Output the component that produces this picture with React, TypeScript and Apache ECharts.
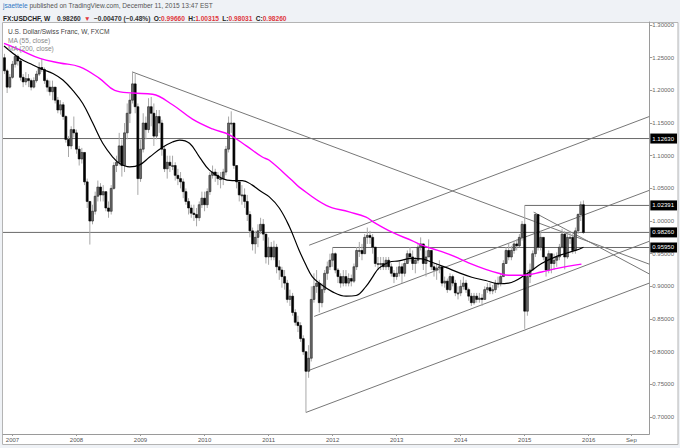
import React, { useEffect, useRef } from "react";
import * as echarts from "echarts";

// Half-month bars from the second half of Nov 2006 to the first half of Dec 2015
const FIRST_YEAR = 2006;
const FIRST_HALF = 21; // index of half-month within the year (Nov, 2nd half)
const firstOpen = 1.25;

const closes = [
  1.230, 1.205, 1.220,
  1.240, 1.252, 1.245, 1.220, 1.213, 1.218, 1.215, 1.205, 1.215, 1.225, 1.235, 1.232, 1.215, 1.205, 1.198, 1.205, 1.185, 1.170, 1.178, 1.160, 1.125, 1.115, 1.140, 1.135,
  1.110, 1.095, 1.105, 1.060, 1.030, 1.000, 1.015, 1.038, 1.052, 1.040, 1.045, 1.020, 1.015, 1.050, 1.085, 1.090, 1.115, 1.085, 1.135, 1.165, 1.185, 1.210, 1.175, 1.065,
  1.110, 1.150, 1.140, 1.175, 1.165, 1.130, 1.160, 1.150, 1.110, 1.080, 1.090, 1.085, 1.085, 1.070, 1.065, 1.060, 1.045, 1.030, 1.020, 1.012, 1.010, 1.005, 1.025, 1.035,
  1.025, 1.045, 1.070, 1.075, 1.070, 1.065, 1.065, 1.075, 1.110, 1.150, 1.150, 1.085, 1.060, 1.040, 1.040, 1.030, 1.010, 0.985, 0.965, 0.975, 0.985, 0.995, 0.980, 0.945,
  0.960, 0.945, 0.960, 0.930, 0.925, 0.915, 0.905, 0.880, 0.885, 0.860, 0.845, 0.840, 0.820, 0.800, 0.770, 0.790, 0.880, 0.900, 0.905, 0.875, 0.895, 0.920, 0.930, 0.940,
  0.950, 0.925, 0.915, 0.905, 0.915, 0.905, 0.912, 0.908, 0.930, 0.955, 0.955, 0.950, 0.975, 0.978, 0.975, 0.960, 0.935, 0.935, 0.935, 0.930, 0.940, 0.930, 0.920, 0.915,
  0.920, 0.930, 0.920, 0.935, 0.950, 0.945, 0.935, 0.940, 0.960, 0.965, 0.935, 0.945, 0.955, 0.930, 0.925, 0.928, 0.930, 0.905, 0.908, 0.895, 0.915, 0.905, 0.890, 0.890,
  0.900, 0.905, 0.895, 0.885, 0.875, 0.885, 0.880, 0.882, 0.880, 0.895, 0.898, 0.893, 0.895, 0.905, 0.905, 0.915, 0.935, 0.955, 0.945, 0.955, 0.965, 0.962, 0.975, 0.995,
  0.862, 0.915, 0.925, 0.950, 1.010, 0.960, 0.975, 0.945, 0.925, 0.950, 0.935, 0.940, 0.945, 0.960, 0.980, 0.945, 0.975, 0.975, 0.955, 0.985, 1.010, 1.025, 0.9826,
];

const highs = [
  1.256, 1.233, 1.225,
  1.245, 1.256, 1.255, 1.248, 1.225, 1.228, 1.225, 1.218, 1.220, 1.230, 1.243, 1.248, 1.235, 1.218, 1.215, 1.215, 1.205, 1.190, 1.185, 1.182, 1.162, 1.130, 1.145, 1.160,
  1.140, 1.115, 1.112, 1.105, 1.065, 1.030, 1.025, 1.045, 1.062, 1.058, 1.055, 1.045, 1.030, 1.055, 1.090, 1.100, 1.135, 1.125, 1.150, 1.180, 1.195, 1.229, 1.225, 1.180,
  1.125, 1.165, 1.160, 1.188, 1.190, 1.180, 1.170, 1.170, 1.155, 1.115, 1.100, 1.100, 1.100, 1.090, 1.080, 1.075, 1.065, 1.050, 1.035, 1.025, 1.025, 1.020, 1.030, 1.045,
  1.045, 1.050, 1.075, 1.085, 1.080, 1.075, 1.075, 1.080, 1.115, 1.160, 1.168, 1.150, 1.085, 1.060, 1.055, 1.050, 1.040, 1.015, 0.990, 0.985, 0.995, 1.005, 1.003, 0.980,
  0.975, 0.968, 0.970, 0.965, 0.940, 0.930, 0.925, 0.910, 0.895, 0.890, 0.865, 0.855, 0.845, 0.825, 0.800, 0.810, 0.900, 0.920, 0.925, 0.910, 0.905, 0.925, 0.938, 0.950,
  0.9595, 0.952, 0.928, 0.920, 0.925, 0.925, 0.920, 0.918, 0.935, 0.960, 0.968, 0.965, 0.980, 0.990, 0.985, 0.980, 0.960, 0.945, 0.945, 0.945, 0.945, 0.945, 0.935, 0.925,
  0.930, 0.938, 0.935, 0.940, 0.955, 0.960, 0.955, 0.945, 0.965, 0.975, 0.965, 0.955, 0.972, 0.955, 0.935, 0.935, 0.940, 0.930, 0.915, 0.912, 0.920, 0.918, 0.910, 0.900,
  0.910, 0.915, 0.910, 0.898, 0.890, 0.890, 0.890, 0.890, 0.888, 0.900, 0.905, 0.905, 0.902, 0.910, 0.915, 0.920, 0.940, 0.960, 0.965, 0.962, 0.970, 0.972, 0.980, 1.000,
  1.0239, 0.925, 0.935, 0.955, 1.0136, 1.005, 0.985, 0.975, 0.945, 0.955, 0.950, 0.950, 0.952, 0.965, 0.988, 0.985, 0.980, 0.985, 0.980, 0.990, 1.012, 1.030, 1.0315,
];

const lows = [
  1.225, 1.196, 1.203,
  1.218, 1.235, 1.238, 1.215, 1.205, 1.208, 1.205, 1.200, 1.203, 1.212, 1.222, 1.228, 1.210, 1.198, 1.192, 1.185, 1.180, 1.165, 1.163, 1.155, 1.120, 1.098, 1.110, 1.128,
  1.103, 1.085, 1.088, 1.055, 1.020, 0.964, 0.995, 1.010, 1.030, 1.030, 1.030, 1.015, 1.005, 1.010, 1.048, 1.075, 1.085, 1.068, 1.075, 1.125, 1.150, 1.180, 1.165, 1.040,
  1.060, 1.105, 1.125, 1.135, 1.145, 1.115, 1.125, 1.135, 1.100, 1.075, 1.065, 1.075, 1.078, 1.062, 1.055, 1.050, 1.035, 1.025, 1.010, 1.005, 1.000, 0.992, 1.000, 1.020,
  1.015, 1.020, 1.040, 1.065, 1.060, 1.055, 1.050, 1.055, 1.070, 1.105, 1.135, 1.080, 1.050, 1.030, 1.025, 1.020, 1.000, 0.975, 0.955, 0.950, 0.960, 0.980, 0.970, 0.935,
  0.933, 0.940, 0.940, 0.920, 0.910, 0.898, 0.895, 0.875, 0.870, 0.855, 0.840, 0.830, 0.815, 0.795, 0.707, 0.760, 0.785, 0.875, 0.890, 0.860, 0.868, 0.890, 0.910, 0.925,
  0.930, 0.920, 0.905, 0.898, 0.900, 0.900, 0.900, 0.900, 0.905, 0.925, 0.945, 0.940, 0.950, 0.965, 0.965, 0.950, 0.930, 0.925, 0.925, 0.925, 0.925, 0.925, 0.915, 0.905,
  0.910, 0.915, 0.905, 0.915, 0.935, 0.938, 0.925, 0.920, 0.935, 0.955, 0.925, 0.915, 0.945, 0.925, 0.915, 0.910, 0.920, 0.900, 0.898, 0.890, 0.893, 0.900, 0.885, 0.880,
  0.885, 0.895, 0.890, 0.878, 0.870, 0.872, 0.875, 0.875, 0.870, 0.880, 0.890, 0.888, 0.888, 0.890, 0.898, 0.900, 0.915, 0.935, 0.940, 0.940, 0.950, 0.955, 0.960, 0.970,
  0.835, 0.855, 0.905, 0.925, 0.945, 0.955, 0.955, 0.940, 0.915, 0.920, 0.920, 0.925, 0.930, 0.940, 0.958, 0.926, 0.942, 0.965, 0.950, 0.950, 0.980, 1.000, 0.9803,
];

// Moving averages: [decimal year, value]
const ma55 = [
  [2006.868, 1.268], [2007.117, 1.249], [2007.319, 1.239], [2007.475, 1.232], [2007.631, 1.226],
  [2007.787, 1.216], [2007.942, 1.2], [2008.098, 1.18], [2008.254, 1.15], [2008.41, 1.119],
  [2008.565, 1.098], [2008.674, 1.088], [2008.83, 1.083], [2008.986, 1.086], [2009.142, 1.098],
  [2009.344, 1.113], [2009.5, 1.121], [2009.609, 1.124], [2009.765, 1.119], [2009.921, 1.098],
  [2010.076, 1.078], [2010.279, 1.065], [2010.435, 1.062], [2010.59, 1.062], [2010.746, 1.055],
  [2010.855, 1.047], [2011.011, 1.037], [2011.167, 1.02], [2011.322, 0.992], [2011.478, 0.955],
  [2011.587, 0.932], [2011.681, 0.915], [2011.79, 0.905], [2011.992, 0.892], [2012.21, 0.885],
  [2012.366, 0.886], [2012.522, 0.9], [2012.615, 0.913], [2012.724, 0.928], [2012.88, 0.937],
  [2013.036, 0.939], [2013.238, 0.943], [2013.394, 0.942], [2013.55, 0.937], [2013.768, 0.929],
  [2013.97, 0.921], [2014.173, 0.914], [2014.391, 0.909], [2014.593, 0.904], [2014.749, 0.905],
  [2015.014, 0.918], [2015.263, 0.935], [2015.528, 0.947], [2015.793, 0.955], [2015.917, 0.96],
];

const ma200 = [
  [2006.868, 1.272], [2007.117, 1.262], [2007.428, 1.249], [2007.74, 1.242], [2008.051, 1.236],
  [2008.363, 1.218], [2008.597, 1.2], [2008.877, 1.196], [2009.188, 1.194], [2009.5, 1.178],
  [2009.811, 1.156], [2010.123, 1.141], [2010.388, 1.132], [2010.653, 1.115], [2010.902, 1.098],
  [2011.011, 1.093], [2011.369, 1.062], [2011.478, 1.052], [2011.899, 1.024], [2012.257, 1.014],
  [2012.522, 1.006], [2012.646, 0.998], [2012.927, 0.983], [2013.238, 0.97], [2013.394, 0.963],
  [2013.55, 0.958], [2013.768, 0.951], [2013.97, 0.943], [2014.173, 0.934], [2014.391, 0.926],
  [2014.593, 0.92], [2014.749, 0.917], [2014.983, 0.917], [2015.263, 0.922], [2015.528, 0.928],
  [2015.886, 0.934],
];

const X_MIN = 2006.852;
const X_MAX = 2016.946;
const Y_MIN = 0.674;
const Y_MAX = 1.3047;

// Horizontal levels (value, first year)
const levelValues = [1.1263, 1.02391, 0.9826, 0.9595];
const levelStarts = [X_MIN, 2015.0, X_MIN, 2012.0];

// Trend lines: [start year, start value]; each runs to the right edge at trendEnds
const trendStarts = [
  [2008.877, 1.228], // 2008 high downtrend
  [2015.139, 1.0136], // 2015 high downtrend
  [2011.634, 0.963], // channel top
  [2011.712, 0.854], // channel mid
  [2011.62, 0.771], // channel lower
  [2011.583, 0.707], // channel bottom
];
const trendEnds = [0.934, 0.919, 1.16, 1.047, 0.969, 0.905];

const yTicks = [0.7, 0.75, 0.8, 0.85, 0.9, 0.95, 1.0, 1.05, 1.1, 1.15, 1.2, 1.25, 1.3];
const xTicks = [2007, 2008, 2009, 2010, 2011, 2012, 2013, 2014, 2015, 2016, 2016.667];
const xTickLabels = ["2007", "2008", "2009", "2010", "2011", "2012", "2013", "2014", "2015", "2016", "Sep"];

const FONT = "'Liberation Sans', Arial, sans-serif";

function buildOption() {
  const candleRows = closes.map((c, i) => {
    const t = FIRST_YEAR + (FIRST_HALF + i) / 24;
    const o = i === 0 ? firstOpen : closes[i - 1];
    return [t, o, c, lows[i], highs[i]];
  });

  const lineSeries: any[] = [];
  levelValues.forEach((v, i) => {
    lineSeries.push({
      type: "line",
      data: [[levelStarts[i], v], [X_MAX, v]],
      symbol: "none",
      silent: true,
      z: 3,
      lineStyle: { color: "#6a6a6a", width: 1 },
    });
  });
  trendStarts.forEach((s, i) => {
    lineSeries.push({
      type: "line",
      data: [[s[0], s[1]], [X_MAX, trendEnds[i]]],
      symbol: "none",
      silent: true,
      z: 3,
      lineStyle: { color: "#777", width: 1 },
    });
  });

  return {
    animation: false,
    backgroundColor: "#fff",
    grid: { left: 3, right: 29, top: 22, bottom: 14 },
    xAxis: {
      type: "value",
      min: X_MIN,
      max: X_MAX,
      splitLine: { show: false },
      axisLine: { show: true, lineStyle: { color: "#9a9a9a" } },
      axisTick: { show: true, customValues: xTicks, length: 2, lineStyle: { color: "#9a9a9a" } },
      axisLabel: {
        customValues: xTicks,
        fontSize: 6,
        fontFamily: FONT,
        color: "#555",
        margin: 3,
        formatter: (v: number) => {
          const i = xTicks.findIndex((t) => Math.abs(t - v) < 0.01);
          return i >= 0 ? xTickLabels[i] : "";
        },
      },
    },
    yAxis: [
      {
        type: "value",
        position: "right",
        min: Y_MIN,
        max: Y_MAX,
        splitLine: { show: false },
        axisLine: { show: true, lineStyle: { color: "#9a9a9a" } },
        axisTick: { show: true, customValues: yTicks, length: 3, lineStyle: { color: "#9a9a9a" } },
        axisLabel: {
          customValues: yTicks,
          fontSize: 6,
          fontFamily: FONT,
          color: "#666",
          margin: 3,
          formatter: (v: number) => v.toFixed(5),
        },
      },
      {
        type: "value",
        position: "right",
        min: Y_MIN,
        max: Y_MAX,
        z: 10,
        splitLine: { show: false },
        axisLine: { show: false },
        axisTick: { show: false },
        axisLabel: {
          customValues: levelValues,
          fontSize: 6,
          fontFamily: FONT,
          color: "#fff",
          backgroundColor: "#000",
          padding: [2, 3, 2, 2],
          margin: 1,
          formatter: (v: number) => v.toFixed(5),
        },
      },
    ],
    series: [
      ...lineSeries,
      {
        type: "custom",
        clip: true,
        z: 4,
        encode: { x: 0, y: [1, 2, 3, 4] },
        data: candleRows,
        renderItem: (params: any, api: any) => {
          const t = api.value(0);
          const o = api.value(1);
          const c = api.value(2);
          const l = api.value(3);
          const h = api.value(4);
          const pO = api.coord([t, o]);
          const pC = api.coord([t, c]);
          const pL = api.coord([t, l]);
          const pH = api.coord([t, h]);
          const w = 2.0;
          const top = Math.min(pO[1], pC[1]);
          const hgt = Math.max(Math.abs(pO[1] - pC[1]), 1);
          const up = c >= o;
          return {
            type: "group",
            children: [
              {
                type: "line",
                shape: { x1: pL[0], y1: pL[1], x2: pH[0], y2: pH[1] },
                style: { stroke: "#a8a8a8", lineWidth: 1 },
              },
              {
                type: "rect",
                shape: { x: pO[0] - w / 2, y: top, width: w, height: hgt },
                style: { fill: up ? "#6a6a6a" : "#000", stroke: up ? "#222" : "#000", lineWidth: 0.6 },
              },
            ],
          };
        },
      },
      {
        type: "line",
        data: ma55,
        smooth: 0.4,
        symbol: "none",
        silent: true,
        z: 5,
        lineStyle: { color: "#000", width: 1.2 },
      },
      {
        type: "line",
        data: ma200,
        smooth: 0.4,
        symbol: "none",
        silent: true,
        z: 5,
        lineStyle: { color: "#ff00ff", width: 1.4 },
      },
    ],
    graphic: [
      { type: "rect", shape: { x: 0, y: 0, width: 680, height: 22 }, style: { fill: "#eff2f6" }, silent: true },
      { type: "rect", shape: { x: 0, y: 445, width: 680, height: 3 }, style: { fill: "#eff2f6" }, silent: true },
      { type: "rect", shape: { x: 0, y: 22, width: 2, height: 423 }, style: { fill: "#eff2f6" }, silent: true },
      { type: "rect", shape: { x: 678, y: 22, width: 2, height: 423 }, style: { fill: "#eff2f6" }, silent: true },
      {
        type: "rect",
        shape: { x: 2.5, y: 22.5, width: 675.5, height: 422 },
        style: { fill: "none", stroke: "#b4b4b4", lineWidth: 1 },
        silent: true,
      },
      {
        type: "text",
        x: 3,
        y: 2,
        style: {
          text: "{a|jsaettele}{b| published on TradingView.com, December 11, 2015 13:47 EST}",
          rich: {
            a: { fill: "#2f78c4", fontSize: 6.6, fontFamily: FONT },
            b: { fill: "#555", fontSize: 6.6, fontFamily: FONT },
          },
        },
        silent: true,
      },
      {
        type: "text",
        x: 3,
        y: 12,
        style: {
          text:
            "{k|FX:USDCHF, W}  {n|0.98260} {r|▼} {n|−0.00470 (−0.48%)} {k|O:}{r|0.99660} {k|H:}{r|1.00315} {k|L:}{r|0.98031} {k|C:}{r|0.98260}",
          rich: {
            k: { fill: "#222", fontSize: 6.6, fontWeight: "bold", fontFamily: FONT },
            n: { fill: "#333", fontSize: 6.6, fontWeight: "bold", fontFamily: FONT },
            r: { fill: "#e0393e", fontSize: 6.6, fontWeight: "bold", fontFamily: FONT },
          },
        },
        silent: true,
      },
      {
        type: "text",
        x: 8,
        y: 28,
        z: 20,
        style: { text: "U.S. Dollar/Swiss Franc, W, FXCM", fill: "#444", fontSize: 6.6, fontFamily: FONT },
        silent: true,
      },
      {
        type: "text",
        x: 8,
        y: 37,
        z: 20,
        style: { text: "MA (55, close)", fill: "#888", fontSize: 6.6, fontFamily: FONT },
        silent: true,
      },
      {
        type: "text",
        x: 8,
        y: 45,
        z: 20,
        style: { text: "MA (200, close)", fill: "#888", fontSize: 6.6, fontFamily: FONT },
        silent: true,
      },
    ],
  };
}

export default function App() {
  const ref = useRef<HTMLDivElement>(null);
  useEffect(() => {
    if (!ref.current) return;
    const chart = echarts.init(ref.current, null, { renderer: "svg" });
    chart.setOption(buildOption() as any);
    return () => chart.dispose();
  }, []);
  return (
    <div
      ref={ref}
      style={{ position: "fixed", left: 0, top: 0, width: 680, height: 448 }}
    />
  );
}
